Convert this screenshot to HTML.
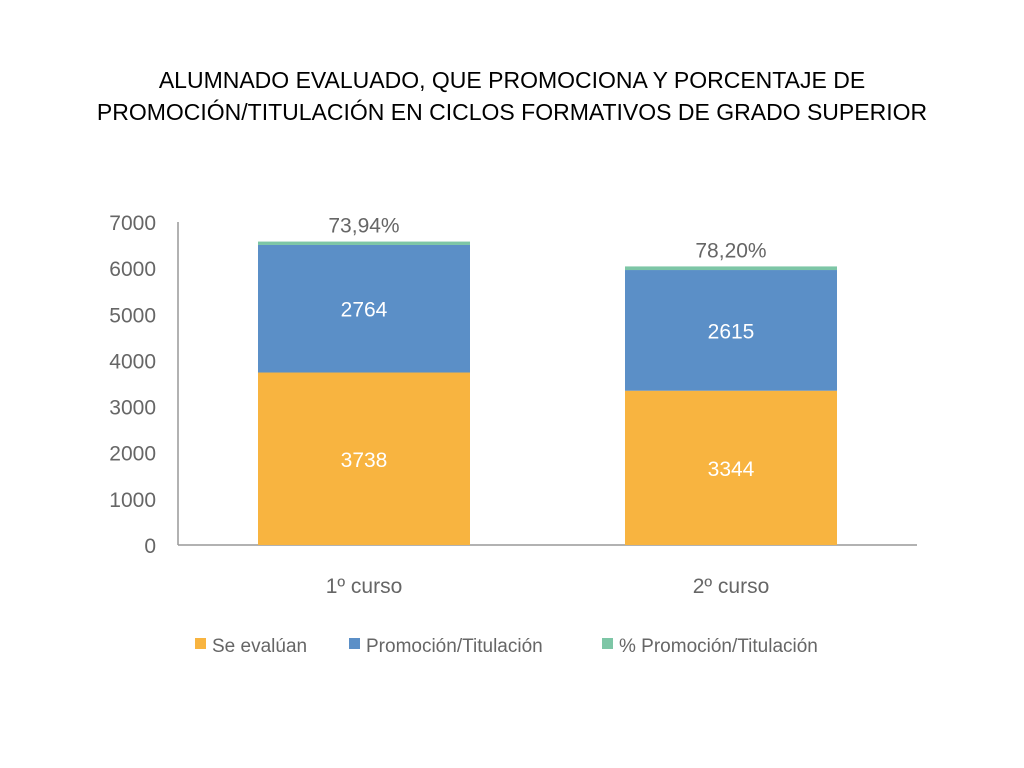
<!DOCTYPE html>
<html><head><meta charset="utf-8"><style>
body{margin:0;width:1024px;height:768px;background:#fff;overflow:hidden;font-family:"Liberation Sans",sans-serif}
#title{position:absolute;left:0;top:64px;width:1024px;text-align:center;font-size:23px;line-height:32px;color:#000}
</style></head><body>
<div id="title">ALUMNADO EVALUADO, QUE PROMOCIONA Y PORCENTAJE DE<br>PROMOCIÓN/TITULACIÓN EN CICLOS FORMATIVOS DE GRADO SUPERIOR</div>
<svg id="chart" width="1024" height="768" style="position:absolute;left:0;top:0"></svg>
<script>
const categories=["1º curso","2º curso"];
const evaluan=[3738,3344];
const promocion=[2764,2615];
const pct=[73.94,78.20];
const pctLabels=["73,94%","78,20%"];
const yTicks=[0,1000,2000,3000,4000,5000,6000,7000];
const seriesNames=["Se evalúan","Promoción/Titulación","% Promoción/Titulación"];
const colors=["#f8b440","#5b8fc7","#7dc6a6"];
const svg=document.getElementById('chart');
const NS="http://www.w3.org/2000/svg";
const y0=545,yTop=222,yMax=7000;
const y=v=>y0-(v/yMax)*(y0-yTop);
const barW=212,centers=[364,731];
function mk(tag,attrs,parent){const e=document.createElementNS(NS,tag);for(const k in attrs)e.setAttribute(k,attrs[k]);(parent||svg).appendChild(e);return e;}
yTicks.forEach(t=>{const tx=mk('text',{x:156,y:y(t)+8,'text-anchor':'end','font-size':21,fill:'#666'});tx.textContent=t;

});
const ya=mk('line',{x1:178,y1:y(7000),x2:178,y2:y0,stroke:'#999','stroke-width':1.5});


const xa=mk('line',{x1:178,y1:y0,x2:917,y2:y0,stroke:'#999','stroke-width':1.5});


categories.forEach((c,i)=>{
 const x=centers[i]-barW/2;
 const a=evaluan[i],b=promocion[i],p=pct[i];
 const r1=mk('rect',{x:x,y:y(a),width:barW,height:y0-y(a),fill:colors[0]});
 
 
 const r2=mk('rect',{x:x,y:y(a+b),width:barW,height:y(a)-y(a+b),fill:colors[1]});
 
 
 const r3=mk('rect',{x:x,y:y(a+b+p),width:barW,height:y(a+b)-y(a+b+p),fill:colors[2]});
 
 
 const l1=mk('text',{x:centers[i],y:(y0+y(a))/2+8,'text-anchor':'middle','font-size':21,fill:'#fff'});l1.textContent=a;
 
 
 const l2=mk('text',{x:centers[i],y:(y(a)+y(a+b))/2+8,'text-anchor':'middle','font-size':21,fill:'#fff'});l2.textContent=b;
 
 
 const l3=mk('text',{x:centers[i],y:y(a+b+p)-9,'text-anchor':'middle','font-size':21,fill:'#666'});l3.textContent=pctLabels[i];
 
 
 const cl=mk('text',{x:centers[i],y:593,'text-anchor':'middle','font-size':21,fill:'#666'});cl.textContent=c;
 
 
});
const lx=[195,349,602];
seriesNames.forEach((n,i)=>{
 const g=mk('g',{});
 
 
 mk('rect',{x:lx[i],y:638,width:11,height:11,fill:colors[i]},g);
 const t=mk('text',{x:lx[i]+17,y:652,'font-size':19,fill:'#666'},g);t.textContent=n;
});
</script>
</body></html>
